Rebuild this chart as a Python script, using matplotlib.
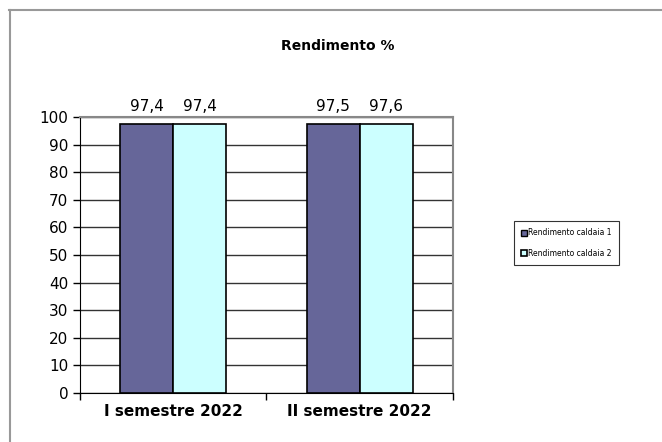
import numpy as np
import matplotlib.pyplot as plt
from matplotlib.lines import Line2D

# Data
categories = ['I semestre 2022', 'II semestre 2022']
caldaia_1 = [97.4, 97.5]
caldaia_2 = [97.4, 97.6]
series_names = ['Rendimento caldaia 1', 'Rendimento caldaia 2']
colors = ['#666699', '#CCFFFF']

fig = plt.figure(figsize=(6.62, 4.42), dpi=100)
ax = fig.add_axes([0.121, 0.111, 0.563, 0.624])

# outer frame (top and left only)
fig.add_artist(Line2D([0.014, 1.0], [0.978, 0.978], color='#999999', lw=1.5))
fig.add_artist(Line2D([0.015, 0.015], [0.0, 0.978], color='#999999', lw=1.5))

x = np.arange(len(categories))
w = 0.285
b1 = ax.bar(x - w / 2, caldaia_1, w, color=colors[0], edgecolor='black', lw=1.2,
            label=series_names[0], zorder=3)
b2 = ax.bar(x + w / 2, caldaia_2, w, color=colors[1], edgecolor='black', lw=1.2,
            label=series_names[1], zorder=3)

for bars, vals in [(b1, caldaia_1), (b2, caldaia_2)]:
    for r, v in zip(bars, vals):
        ax.text(r.get_x() + r.get_width() / 2, 101, f'{v:.1f}'.replace('.', ','),
                ha='center', va='bottom', fontsize=11)

ax.set_xlim(-0.5, 1.5)
ax.set_ylim(0, 100)
ax.set_yticks(range(0, 101, 10))
ax.yaxis.grid(True, color='#333333', lw=1, zorder=0)
ax.tick_params(axis='y', direction='out', length=5, labelsize=11, width=1)

# category labels and ticks between categories
ax.set_xticks(x)
ax.set_xticklabels(categories, fontsize=11, fontweight='bold')
ax.tick_params(axis='x', length=0, pad=8)
ax.set_xticks([-0.5, 0.5, 1.5], minor=True)
ax.tick_params(axis='x', which='minor', direction='out', length=5, width=1)

ax.spines['left'].set_color('black')
ax.spines['bottom'].set_color('black')
ax.spines['top'].set_color('#888888')
ax.spines['right'].set_color('#888888')
ax.spines['top'].set_linewidth(1.5)
ax.spines['right'].set_linewidth(1.5)

fig.text(0.51, 0.895, 'Rendimento %', ha='center', va='center',
         fontsize=10, fontweight='bold')

h1 = Line2D([], [], marker='s', ls='', markersize=4, markerfacecolor=colors[0],
            markeredgecolor='black')
h2 = Line2D([], [], marker='s', ls='', markersize=4, markerfacecolor=colors[1],
            markeredgecolor='black', markeredgewidth=1.2)
leg = fig.legend([h1, h2], series_names, loc='center', bbox_to_anchor=(0.856, 0.45),
                 fontsize=5.5, frameon=True, fancybox=False, edgecolor='black',
                 handlelength=0.6, handletextpad=0.2, labelspacing=1.5,
                 borderpad=1.0)
leg.get_frame().set_linewidth(0.8)

fig.savefig('out.png', dpi=100)
